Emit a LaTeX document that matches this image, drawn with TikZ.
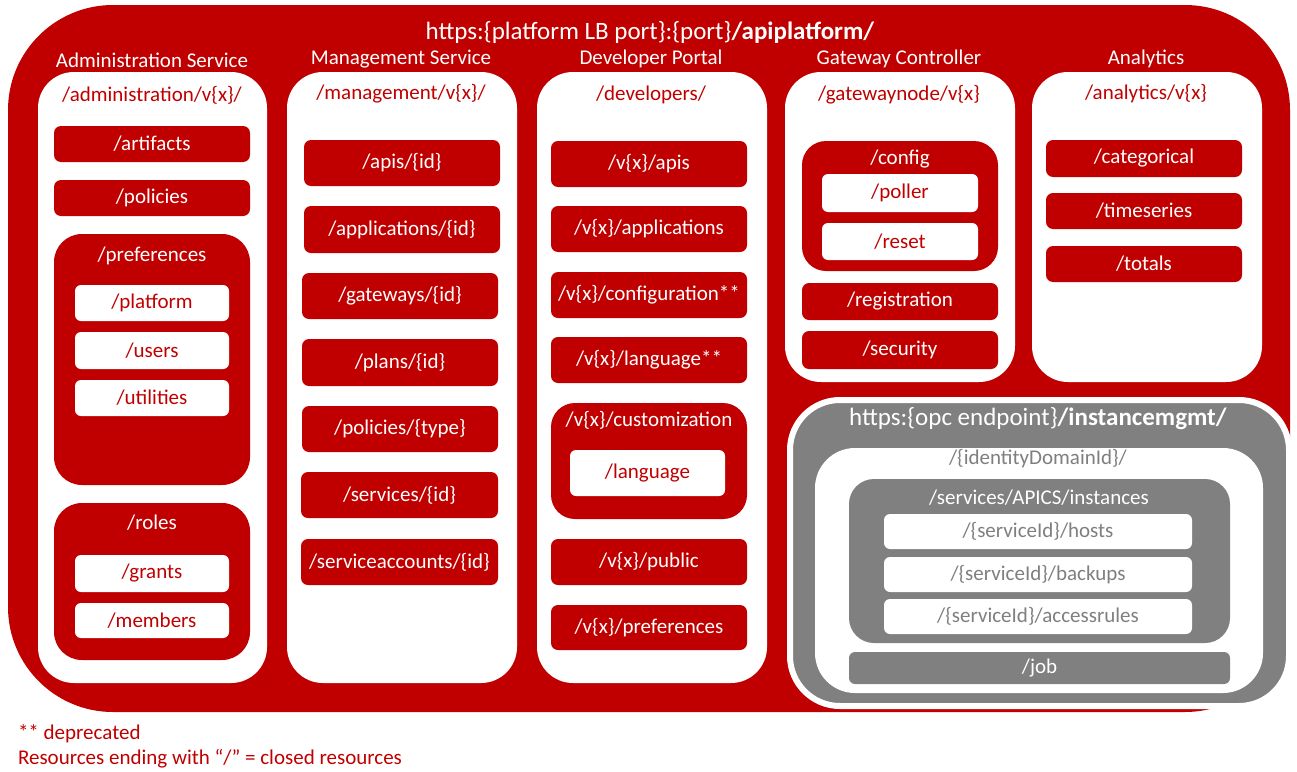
\documentclass[tikz,border=0pt]{standalone}
\usepackage{fontspec}
\setmainfont{Carlito}
\definecolor{ored}{RGB}{192,0,0}
\definecolor{ogray}{RGB}{128,128,128}
\definecolor{otext}{RGB}{127,127,127}
\newcommand\fsmid{\fontsize{21}{25}\selectfont}
\newcommand\fsbig{\fontsize{25}{30}\selectfont}
\newcommand\rbox[7]{\node[#1, minimum width={(#5-#3)*1pt}, minimum height={(#6-#4)*1pt}] (#2) at ({(#3+#5)/2},{(#4+#6)/2}) {#7};}
\tikzset{
  base/.style={inner sep=0pt, outer sep=0pt, font=\fsmid},
  mainbox/.style={base, fill=ored, rounded corners=105pt},
  graybox/.style={base, fill=ogray, draw=white, line width=6pt, rounded corners=50pt},
  innerwhite/.style={base, fill=white, rounded corners=40pt},
  graygrp/.style={base, fill=ogray, rounded corners=25pt},
  grayrow/.style={base, fill=white, text=otext, rounded corners=6pt},
  grayitem/.style={base, fill=ogray, text=white, rounded corners=6pt},
  colbox/.style={base, fill=white, rounded corners=36pt},
  grp/.style={base, fill=ored, rounded corners=28pt},
  sgrp/.style={base, fill=ored, rounded corners=24pt},
  redbox/.style={base, fill=ored, text=white, rounded corners=7pt},
  whitebox/.style={base, fill=white, text=ored, rounded corners=6pt},
  hdr/.style={base, text=white},
  path/.style={base, text=ored},
  glabel/.style={base, text=white},
  graytxt/.style={base, text=otext},
  note/.style={base, text=ored, anchor=west},
}
\begin{document}
\begin{tikzpicture}[x=1pt,y=-1pt]
\useasboundingbox (0,0) rectangle (1297,771);
% main red container
\rbox{mainbox}{main}{8}{5}{1290}{712}{}
\node[hdr, font=\fsbig] (title) at (650,32) {https:\{platform LB port\}:\{port\}\textbf{/apiplatform/}};
% column headers
\node[hdr] (h1) at (152,60) {Administration Service};
\node[hdr] (h2) at (401,59) {Management Service};
\node[hdr] (h3) at (651,59) {Developer Portal};
\node[hdr] (h4) at (899,59) {Gateway Controller};
\node[hdr] (h5) at (1146,59) {Analytics};
% columns
\rbox{colbox}{c1}{38}{72}{267}{683}{}
\rbox{colbox}{c2}{287}{72}{517}{683}{}
\rbox{colbox}{c3}{537}{72}{767}{683}{}
\rbox{colbox}{c4}{785}{72}{1015}{382}{}
\rbox{colbox}{c5}{1032}{72}{1262}{382}{}
\node[path] (p1) at (152,95) {/administration/v\{x\}/};
\node[path] (p2) at (401,94) {/management/v\{x\}/};
\node[path] (p3) at (651,95) {/developers/};
\node[path] (p4) at (899,95) {/gatewaynode/v\{x\}};
\node[path] (p5) at (1146,94) {/analytics/v\{x\}};
% administration
\rbox{redbox}{a1}{54}{126}{250}{162}{/artifacts}
\rbox{redbox}{a2}{54}{180}{250}{216}{/policies}
\rbox{grp}{apref}{54}{234}{250}{485}{}
\node[glabel] (aprefl) at (152,256) {/preferences};
\rbox{whitebox}{a3}{75}{285}{229}{321}{/platform}
\rbox{whitebox}{a4}{75}{332}{229}{369}{/users}
\rbox{whitebox}{a5}{75}{380}{229}{416}{/utilities}
\rbox{grp}{aroles}{54}{503}{250}{660}{}
\node[glabel] (arolesl) at (152,523) {/roles};
\rbox{whitebox}{a6}{75}{555}{229}{592}{/grants}
\rbox{whitebox}{a7}{75}{603}{229}{638}{/members}
% management
\rbox{redbox}{m1}{304}{140}{500}{186}{/apis/\{id\}}
\rbox{redbox}{m2}{304}{206}{500}{253}{/applications/\{id\}}
\rbox{redbox}{m3}{302}{273}{498}{319}{/gateways/\{id\}}
\rbox{redbox}{m4}{302}{339}{498}{386}{/plans/\{id\}}
\rbox{redbox}{m5}{302}{406}{498}{452}{/policies/\{type\}}
\rbox{redbox}{m6}{301}{472}{498}{518}{/services/\{id\}}
\rbox{redbox}{m7}{301}{539}{498}{585}{/serviceaccounts/\{id\}}
% developer portal
\rbox{redbox}{d1}{551}{141}{747}{187}{/v\{x\}/apis}
\rbox{redbox}{d2}{551}{206}{747}{252}{/v\{x\}/applications}
\rbox{redbox}{d3}{551}{272}{747}{318}{/v\{x\}/configuration**}
\rbox{redbox}{d4}{551}{337}{747}{383}{/v\{x\}/language**}
\rbox{sgrp}{dcust}{551}{403}{747}{519}{}
\node[glabel] (dcustl) at (649,420) {/v\{x\}/customization};
\rbox{whitebox}{d5}{570}{450}{725}{496}{/language}
\rbox{redbox}{d6}{551}{539}{747}{585}{/v\{x\}/public}
\rbox{redbox}{d7}{551}{605}{747}{650}{/v\{x\}/preferences}
% gateway controller
\rbox{sgrp}{gconf}{802}{141}{998}{271}{}
\node[glabel] (gconfl) at (900,159) {/config};
\rbox{whitebox}{g1}{822}{174}{978}{212}{/poller}
\rbox{whitebox}{g2}{822}{223}{978}{260}{/reset}
\rbox{redbox}{g3}{802}{283}{998}{320}{/registration}
\rbox{redbox}{g4}{802}{331}{998}{369}{/security}
% analytics
\rbox{redbox}{n1}{1046}{140}{1242}{177}{/categorical}
\rbox{redbox}{n2}{1046}{193}{1242}{229}{/timeseries}
\rbox{redbox}{n3}{1046}{246}{1242}{282}{/totals}
% instance management
\rbox{graybox}{inst}{790}{400}{1289}{706}{}
\node[hdr, font=\fsbig] (instl) at (1038,419) {https:\{opc endpoint\}\textbf{/instancemgmt/}};
\rbox{innerwhite}{idd}{815}{448}{1263}{693}{}
\node[graytxt] (iddl) at (1038,459) {/\{identityDomainId\}/};
\rbox{graygrp}{svc}{849}{479}{1230}{643}{}
\node[glabel] (svcl) at (1039,498) {/services/APICS/instances};
\rbox{grayrow}{s1}{884}{514}{1192}{549}{/\{serviceId\}/hosts}
\rbox{grayrow}{s2}{884}{557}{1192}{592}{/\{serviceId\}/backups}
\rbox{grayrow}{s3}{884}{599}{1192}{634}{/\{serviceId\}/accessrules}
\rbox{grayitem}{job}{849}{652}{1230}{684}{/job}
% notes
\node[note] (note1) at (18,734) {** deprecated};
\node[note] (note2) at (18,759) {Resources ending with “/” = closed resources};
\end{tikzpicture}
\end{document}
